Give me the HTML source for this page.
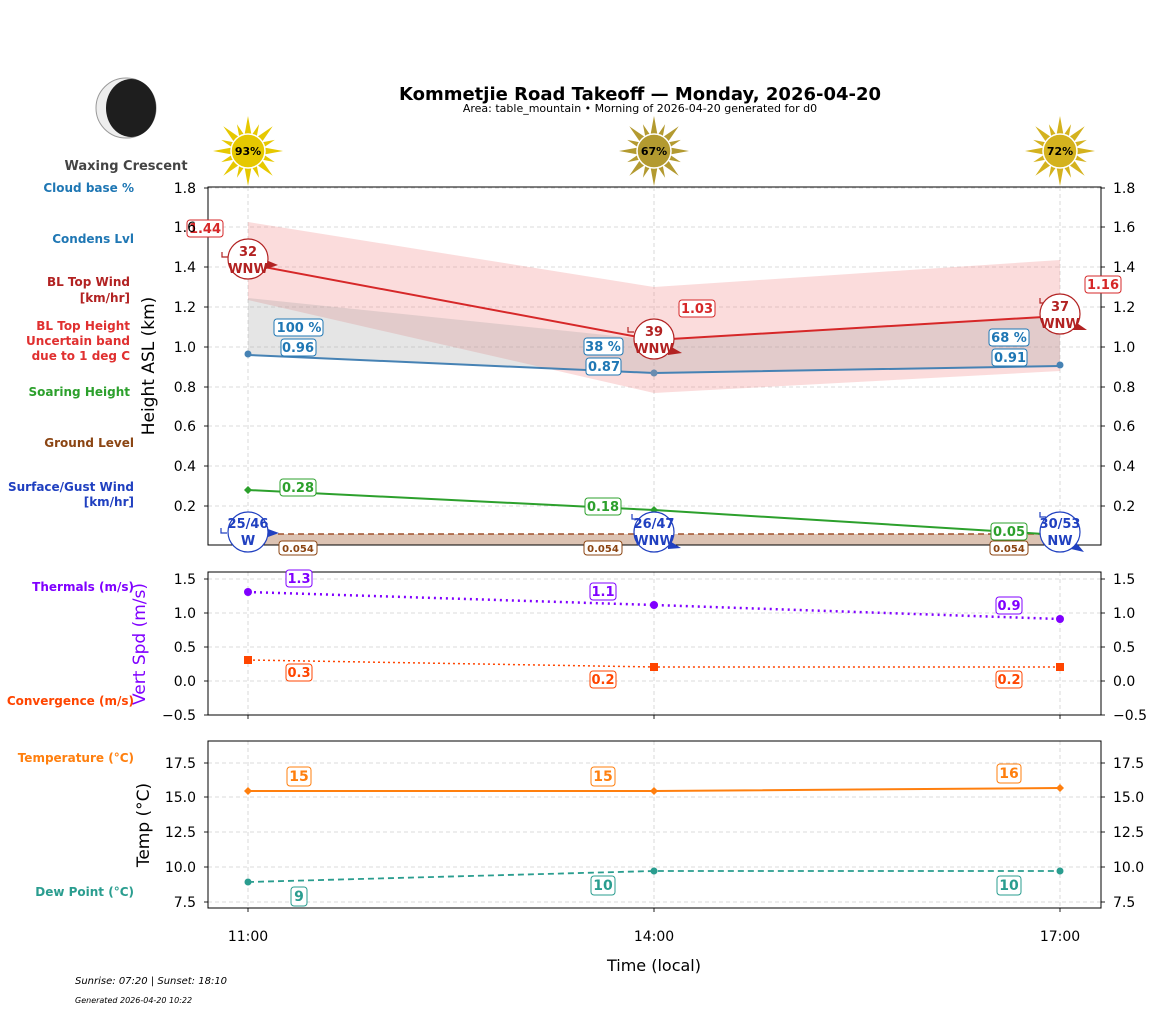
<!DOCTYPE html>
<html><head><meta charset="utf-8"><style>
html,body{margin:0;padding:0;background:#fff;}
svg{display:block;font-family:"DejaVu Sans","Liberation Sans",sans-serif;}
.t{font-size:14px;fill:#000}
.lb{font-weight:bold;font-size:13px}
.ll{font-weight:bold;font-size:12px}
.g{stroke:#d0d0d0;stroke-width:0.8;stroke-dasharray:4,3}
</style></head><body>
<svg id="s" width="1157" height="1011" viewBox="0 0 1157 1011">
<rect width="1157" height="1011" fill="#fff"/>
<text x="640" y="100" text-anchor="middle" font-size="18" font-weight="bold">Kommetjie Road Takeoff — Monday, 2026-04-20</text>
<text x="640" y="112" text-anchor="middle" font-size="11">Area: table_mountain • Morning of 2026-04-20 generated for d0</text>
<circle cx="126" cy="108" r="30" fill="#eee" stroke="#999" stroke-width="1"/>
<ellipse cx="131" cy="108" rx="25" ry="29" fill="#1e1e1e"/>
<text x="126" y="170" text-anchor="middle" font-size="13" font-weight="bold" fill="#444">Waxing Crescent</text>
<g id="suns"></g>
<g text-anchor="end" class="ll">
<text x="134" y="192" fill="#1f77b4">Cloud base %</text>
<text x="134" y="243" fill="#1f77b4">Condens Lvl</text>
<text x="130" y="286" fill="#b22222">BL Top Wind</text>
<text x="130" y="302" fill="#b22222">[km/hr]</text>
<text x="130" y="330" fill="#e03030">BL Top Height</text>
<text x="130" y="345" fill="#e03030">Uncertain band</text>
<text x="130" y="360" fill="#e03030">due to 1 deg C</text>
<text x="130" y="396" fill="#2ca02c">Soaring Height</text>
<text x="134" y="447" fill="#8b4513">Ground Level</text>
<text x="134" y="491" fill="#2040c0">Surface/Gust Wind</text>
<text x="134" y="506" fill="#2040c0">[km/hr]</text>
<text x="134" y="591" fill="#8000ff">Thermals (m/s)</text>
<text x="134" y="705" fill="#ff4500">Convergence (m/s)</text>
<text x="134" y="762" fill="#ff7f0e">Temperature (°C)</text>
<text x="134" y="896" fill="#2a9d8f">Dew Point (°C)</text>
</g>
<text transform="translate(154,366) rotate(-90)" text-anchor="middle" font-size="17">Height ASL (km)</text>
<text transform="translate(145,644) rotate(-90)" text-anchor="middle" font-size="17" fill="#8000ff">Vert Spd (m/s)</text>
<text transform="translate(149,825) rotate(-90)" text-anchor="middle" font-size="17">Temp (°C)</text>
<text x="654" y="971" text-anchor="middle" font-size="16">Time (local)</text>
<text x="75" y="984" font-size="10" font-style="italic">Sunrise: 07:20 | Sunset: 18:10</text>
<text x="75" y="1003" font-size="8" font-style="italic">Generated 2026-04-20 10:22</text>
<g id="grid"></g>
<polygon points="248,222 654,287 1060,260 1060,371 654,393 248,300" fill="#f08080" opacity="0.28"/>
<polygon points="248,298 654,340 1060,316 1060,366 654,373 248,355" fill="#a0a0a0" opacity="0.28"/>
<polygon points="248,534 1060,534 1060,545 248,545" fill="#dcc3b3"/>
<line x1="248" y1="534" x2="1060" y2="534" stroke="#a0522d" stroke-width="1.5" stroke-dasharray="6,4"/>
<polyline points="248,264 654,340 1060,316" fill="none" stroke="#d62728" stroke-width="2"/>
<polyline points="248,355 654,373 1060,366" fill="none" stroke="#4682b4" stroke-width="2"/>
<circle cx="248" cy="354" r="3.5" fill="#4682b4"/><circle cx="654" cy="373" r="3.5" fill="#6a8cb0"/><circle cx="1060" cy="365" r="3.5" fill="#4682b4"/>
<polyline points="248,490 654,510 1060,535" fill="none" stroke="#2ca02c" stroke-width="2"/>
<path d="M248,486 l4,4 -4,4 -4,-4z M654,506 l4,4 -4,4 -4,-4z" fill="#2ca02c"/>
<polyline points="248,592 654,605 1060,619" fill="none" stroke="#8000ff" stroke-width="2.5" stroke-dasharray="2,4"/>
<circle cx="248" cy="592" r="4" fill="#8000ff"/><circle cx="654" cy="605" r="4" fill="#8000ff"/><circle cx="1060" cy="619" r="4" fill="#8000ff"/>
<polyline points="248,660 654,667 1060,667" fill="none" stroke="#ff4500" stroke-width="1.5" stroke-dasharray="2,3"/>
<rect x="244" y="656" width="8" height="8" fill="#ff4500"/><rect x="650" y="663" width="8" height="8" fill="#ff4500"/><rect x="1056" y="663" width="8" height="8" fill="#ff4500"/>
<polyline points="248,791 654,791 1060,788" fill="none" stroke="#ff7f0e" stroke-width="2"/>
<path d="M248,787 l4,4 -4,4 -4,-4z M654,787 l4,4 -4,4 -4,-4z M1060,784 l4,4 -4,4 -4,-4z" fill="#ff7f0e"/>
<polyline points="248,882 654,871 1060,871" fill="none" stroke="#2a9d8f" stroke-width="1.8" stroke-dasharray="6,4"/>
<circle cx="248" cy="882" r="3.5" fill="#2a9d8f"/><circle cx="654" cy="871" r="3.5" fill="#2a9d8f"/><circle cx="1060" cy="871" r="3.5" fill="#2a9d8f"/>
<g fill="none" stroke="#000" stroke-width="1">
<rect x="208" y="187" width="893" height="358"/>
<rect x="208" y="572" width="893" height="143"/>
<rect x="208" y="741" width="893" height="167"/>
</g>
<g class="lb" text-anchor="middle" stroke-width="1">
<g fill="#fff" stroke="#d62728"><rect x="187" y="220" width="36" height="17" rx="3"/><rect x="679" y="300" width="36" height="17" rx="3"/><rect x="1085" y="276" width="36" height="17" rx="3"/></g>
<g fill="#d62728"><text x="205" y="233">1.44</text><text x="697" y="313">1.03</text><text x="1103" y="289">1.16</text></g>
<g fill="#fff" stroke="#1f77b4"><rect x="274" y="319" width="49" height="17" rx="3"/><rect x="281" y="339" width="35" height="17" rx="3"/><rect x="584" y="338" width="39" height="17" rx="3"/><rect x="586" y="358" width="35" height="17" rx="3"/><rect x="989" y="329" width="40" height="17" rx="3"/><rect x="992" y="349" width="35" height="17" rx="3"/></g>
<g fill="#1f77b4"><text x="299" y="332">100 %</text><text x="298" y="352">0.96</text><text x="603" y="351">38 %</text><text x="604" y="371">0.87</text><text x="1009" y="342">68 %</text><text x="1010" y="362">0.91</text></g>
<g fill="#fff" stroke="#2ca02c"><rect x="280" y="479" width="36" height="17" rx="3"/><rect x="585" y="498" width="36" height="17" rx="3"/><rect x="991" y="523" width="36" height="17" rx="3"/></g>
<g fill="#2ca02c"><text x="298" y="492">0.28</text><text x="603" y="511">0.18</text><text x="1009" y="536">0.05</text></g>
<g fill="#fff" stroke="#8b4513"><rect x="279" y="541" width="38" height="14" rx="3"/><rect x="584" y="541" width="38" height="14" rx="3"/><rect x="990" y="541" width="38" height="14" rx="3"/></g>
<g fill="#8b4513" font-size="10"><text x="298" y="552">0.054</text><text x="603" y="552">0.054</text><text x="1009" y="552">0.054</text></g>
<g fill="#fff" stroke="#8000ff"><rect x="286" y="570" width="26" height="17" rx="3"/><rect x="590" y="583" width="26" height="17" rx="3"/><rect x="996" y="597" width="26" height="17" rx="3"/></g>
<g fill="#8000ff"><text x="299" y="583">1.3</text><text x="603" y="596">1.1</text><text x="1009" y="610">0.9</text></g>
<g fill="#fff" stroke="#ff4500"><rect x="286" y="664" width="26" height="17" rx="3"/><rect x="590" y="671" width="26" height="17" rx="3"/><rect x="996" y="671" width="26" height="17" rx="3"/></g>
<g fill="#ff4500"><text x="299" y="677">0.3</text><text x="603" y="684">0.2</text><text x="1009" y="684">0.2</text></g>
<g fill="#fff" stroke="#ff7f0e"><rect x="287" y="767" width="24" height="19" rx="3"/><rect x="591" y="767" width="24" height="19" rx="3"/><rect x="997" y="764" width="24" height="19" rx="3"/></g>
<g fill="#ff7f0e" font-size="14"><text x="299" y="781">15</text><text x="603" y="781">15</text><text x="1009" y="778">16</text></g>
<g fill="#fff" stroke="#2a9d8f"><rect x="291" y="887" width="16" height="19" rx="3"/><rect x="591" y="876" width="24" height="19" rx="3"/><rect x="997" y="876" width="24" height="19" rx="3"/></g>
<g fill="#2a9d8f" font-size="14"><text x="299" y="901">9</text><text x="603" y="890">10</text><text x="1009" y="890">10</text></g>
</g>
<g class="lb" text-anchor="middle" font-size="11.5">
<g stroke="#b22222" stroke-width="1.2"><path d="M222,252 l0,5 l6,0" fill="none"/><path d="M628,327 l0,5 l6,0" fill="none"/><path d="M1040,298 l0,5 l6,0" fill="none"/></g>
<g fill="#b22222"><path d="M266,260 l12,5 -12,4z M668,345 l14,8 -14,2z M1074,321 l13,9 -14,0z"/></g>
<g fill="#fff" stroke="#b22222" stroke-width="1.2"><circle cx="248" cy="259" r="20"/><circle cx="654" cy="339" r="20"/><circle cx="1060" cy="314" r="20"/></g>
<g fill="#b22222"><text x="248" y="256">32</text><text x="248" y="273">WNW</text><text x="654" y="336">39</text><text x="654" y="353">WNW</text><text x="1060" y="311">37</text><text x="1060" y="328">WNW</text></g>
<g stroke="#2040c0" stroke-width="1.2"><path d="M221,528 l0,5 l6,0" fill="none"/><path d="M632,514 l0,5 l6,0" fill="none"/><path d="M1040,512 l0,5 l6,0" fill="none"/></g>
<g fill="#2040c0"><path d="M268,529 l11,4 -11,4z M668,540 l13,8 -13,1z M1074,540 l10,12 -13,-3z"/></g>
<g fill="#fff" stroke="#2040c0" stroke-width="1.2"><circle cx="248" cy="532" r="20"/><circle cx="654" cy="532" r="20"/><circle cx="1060" cy="532" r="20"/></g>
<g fill="#2040c0"><text x="248" y="528">25/46</text><text x="248" y="545">W</text><text x="654" y="528">26/47</text><text x="654" y="545">WNW</text><text x="1060" y="528">30/53</text><text x="1060" y="545">NW</text></g>
</g>
<g class="t" text-anchor="end">
<text x="196" y="193">1.8</text><text x="196" y="232">1.6</text><text x="196" y="272">1.4</text><text x="196" y="312">1.2</text><text x="196" y="352">1.0</text><text x="196" y="392">0.8</text><text x="196" y="431">0.6</text><text x="196" y="471">0.4</text><text x="196" y="511">0.2</text>
<text x="196" y="584">1.5</text><text x="196" y="618">1.0</text><text x="196" y="652">0.5</text><text x="196" y="686">0.0</text><text x="196" y="720">−0.5</text>
<text x="196" y="768">17.5</text><text x="196" y="802">15.0</text><text x="196" y="837">12.5</text><text x="196" y="872">10.0</text><text x="196" y="907">7.5</text>
</g>
<g class="t">
<text x="1113" y="193">1.8</text><text x="1113" y="232">1.6</text><text x="1113" y="272">1.4</text><text x="1113" y="312">1.2</text><text x="1113" y="352">1.0</text><text x="1113" y="392">0.8</text><text x="1113" y="431">0.6</text><text x="1113" y="471">0.4</text><text x="1113" y="511">0.2</text>
<text x="1113" y="584">1.5</text><text x="1113" y="618">1.0</text><text x="1113" y="652">0.5</text><text x="1113" y="686">0.0</text><text x="1113" y="720">−0.5</text>
<text x="1113" y="768">17.5</text><text x="1113" y="802">15.0</text><text x="1113" y="837">12.5</text><text x="1113" y="872">10.0</text><text x="1113" y="907">7.5</text>
</g>
<g class="t" text-anchor="middle" font-size="13"><text x="248" y="941">11:00</text><text x="654" y="941">14:00</text><text x="1060" y="941">17:00</text></g>
<g id="sunlabels" font-size="11" font-weight="bold" text-anchor="middle"><text x="248" y="155">93%</text><text x="654" y="155">67%</text><text x="1060" y="155">72%</text></g>
</svg>
<script>
var NS="http://www.w3.org/2000/svg";
function el(p,t,a){var e=document.createElementNS(NS,t);for(var k in a)e.setAttribute(k,a[k]);p.appendChild(e);return e;}
var grid=document.getElementById('grid');
[188,227,267,307,347,387,426,466,506,579,613,647,681,763,797,832,867,902].forEach(function(y){el(grid,'line',{x1:208,x2:1101,y1:y,y2:y,'class':'g'});});
[[187,545],[572,715],[741,908]].forEach(function(r){[248,654,1060].forEach(function(x){el(grid,'line',{x1:x,x2:x,y1:r[0],y2:r[1],'class':'g'});});});
[[187,545],[572,715],[741,908]].forEach(function(r){[248,654,1060].forEach(function(x){el(grid,'line',{x1:x,x2:x,y1:r[1],y2:r[1]+4,stroke:'#222'});});});
[188,227,267,307,347,387,426,466,506,579,613,647,681,715,763,797,832,867,902].forEach(function(y){el(grid,'line',{x1:204,x2:208,y1:y,y2:y,stroke:'#222'});el(grid,'line',{x1:1101,x2:1105,y1:y,y2:y,stroke:'#222'});});
var suns=document.getElementById('suns');
[[248,'#e6c800'],[654,'#b39a30'],[1060,'#d4b21e']].forEach(function(c){
 var cx=c[0],cy=151;
 for(var i=0;i<16;i++){var a=i*Math.PI/8-Math.PI/2,L=(i%2==0)?35:29,w=(i%2==0)?0.2:0.15;
  var p=[[cx+Math.cos(a)*L,cy+Math.sin(a)*L],[cx+Math.cos(a+w)*17,cy+Math.sin(a+w)*17],[cx+Math.cos(a-w)*17,cy+Math.sin(a-w)*17]];
  el(suns,'polygon',{points:p.map(function(q){return q[0].toFixed(1)+','+q[1].toFixed(1)}).join(' '),fill:c[1]});}
 el(suns,'circle',{cx:cx,cy:cy,r:17,fill:c[1],stroke:'#fff','stroke-width':1.5});
});
</script>
</body></html>
